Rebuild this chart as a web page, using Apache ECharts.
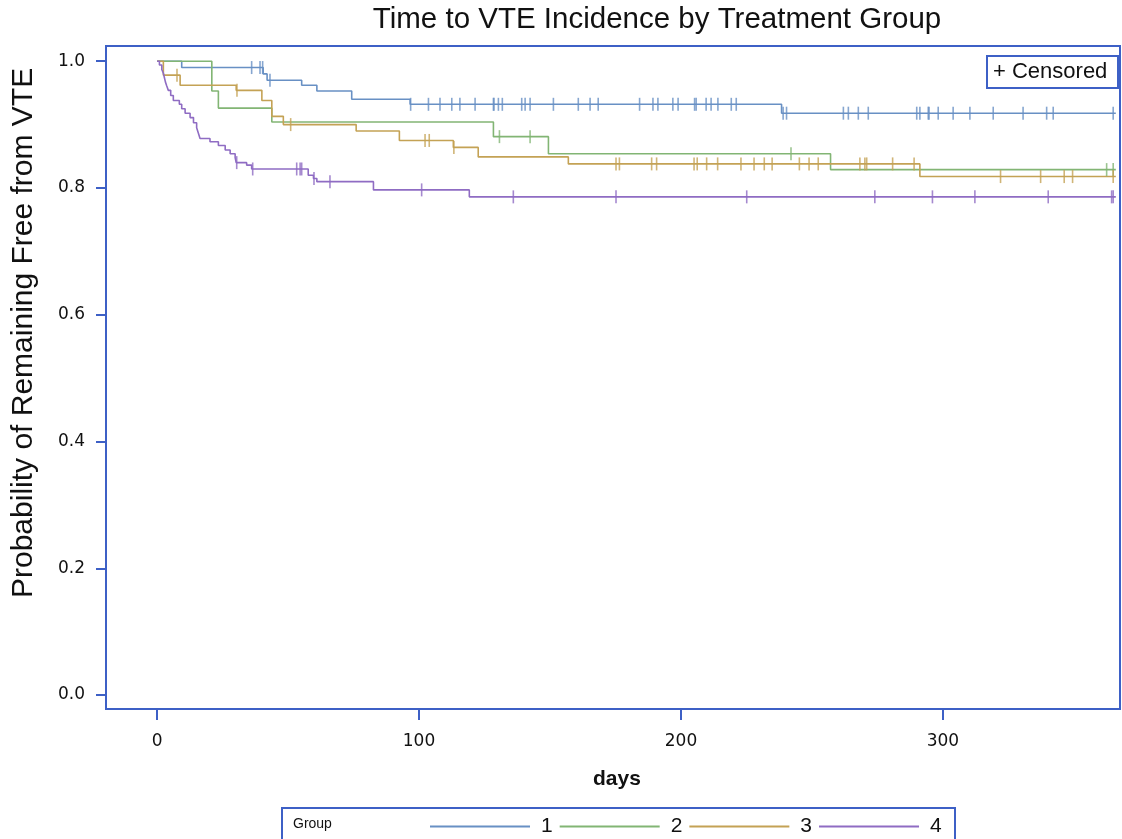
<!DOCTYPE html>
<html><head><meta charset="utf-8">
<script src="https://cdn.jsdelivr.net/npm/echarts@6/dist/echarts.min.js"></script>
<style>html,body{margin:0;padding:0;background:#fff}#c{width:1122px;height:839px}</style>
</head><body><div id="c"></div>
<script>
// Group 1
const g1Times = [9.4, 40.5, 42.0, 55.2, 61.0, 74.3, 96.6, 238.4];
const g1Surv  = [0.990, 0.980, 0.970, 0.962, 0.953, 0.940, 0.932, 0.918];
const g1Censor = [36.1, 39.3, 40.3, 43.1, 96.8, 103.6, 108.0, 112.5, 115.6, 121.4, 128.4, 128.6, 130.3, 131.8, 139.2, 140.5, 142.4, 151.3, 160.8, 165.3, 168.4, 184.2, 189.3, 191.2, 196.9, 198.9, 205.2, 205.8, 209.6, 211.5, 214.1, 219.2, 221.1, 239.0, 240.3, 262.0, 263.9, 267.7, 271.5, 290.0, 291.2, 294.4, 294.7, 298.2, 303.9, 310.3, 319.2, 330.6, 339.6, 342.1, 365.0];
// Group 2
const g2Times = [20.9, 23.4, 43.8, 128.4, 149.4, 257.1];
const g2Surv  = [0.953, 0.926, 0.904, 0.881, 0.854, 0.829];
const g2Censor = [130.7, 142.4, 242.0, 362.5, 365.0];
// Group 3
const g3Times = [2.4, 8.8, 30.2, 40.0, 43.8, 48.2, 76.0, 92.5, 113.1, 122.6, 157.0, 291.2];
const g3Surv  = [0.978, 0.962, 0.954, 0.938, 0.913, 0.900, 0.890, 0.875, 0.864, 0.849, 0.838, 0.818];
const g3Censor = [7.6, 30.5, 51.0, 102.3, 103.9, 113.3, 175.2, 176.5, 188.8, 190.7, 205.0, 206.2, 209.8, 214.0, 222.9, 227.9, 231.8, 234.8, 245.2, 248.9, 252.4, 268.3, 270.2, 270.9, 280.8, 289.0, 322.0, 337.3, 346.3, 349.5, 365.0];
// Group 4
const g4Times = [0.9, 1.8, 2.4, 2.8, 3.2, 3.7, 4.3, 5.2, 6.2, 8.5, 9.4, 10.7, 12.6, 13.9, 15.1, 15.8, 16.4, 20.2, 23.4, 26.0, 27.9, 29.8, 30.2, 34.2, 36.1, 57.7, 59.7, 61.0, 82.6, 119.2];
const g4Surv  = [0.994, 0.987, 0.981, 0.974, 0.967, 0.961, 0.954, 0.946, 0.938, 0.932, 0.925, 0.918, 0.911, 0.903, 0.895, 0.886, 0.878, 0.873, 0.867, 0.860, 0.854, 0.848, 0.840, 0.836, 0.830, 0.820, 0.815, 0.810, 0.797, 0.786];
const g4Censor = [30.4, 36.5, 53.3, 54.6, 55.2, 59.9, 66.0, 101.0, 136.0, 175.2, 225.1, 274.0, 296.0, 312.2, 340.2, 364.4, 365.0];

const groupNames = ['1', '2', '3', '4'];
const endDay = 366;
const xTicks = [0, 100, 200, 300];
const yTicks = [0, 0.2, 0.4, 0.6, 0.8, 1.0];

const colors = ['#6890c4', '#82b574', '#c4a255', '#8f6cc3'];
const groups = [
  [g1Times, g1Surv, g1Censor],
  [g2Times, g2Surv, g2Censor],
  [g3Times, g3Surv, g3Censor],
  [g4Times, g4Surv, g4Censor]
];

function stepPoints(times, surv) {
  const pts = [[0, 1]];
  let prev = 1;
  for (let i = 0; i < times.length; i++) {
    pts.push([times[i], prev]);
    pts.push([times[i], surv[i]]);
    prev = surv[i];
  }
  pts.push([endDay, prev]);
  return pts;
}
function survAt(times, surv, t) {
  let s = 1;
  for (let i = 0; i < times.length; i++) if (times[i] <= t) s = surv[i];
  return s;
}

const series = [];
groups.forEach((g, k) => {
  series.push({
    name: groupNames[k], type: 'line', data: stepPoints(g[0], g[1]),
    showSymbol: false, symbol: 'none', animation: false,
    lineStyle: { color: colors[k], width: 1.6 }, itemStyle: { color: colors[k] }, z: 3
  });
});
groups.forEach((g, k) => {
  series.push({
    name: 'c' + groupNames[k], type: 'scatter',
    data: g[2].map(t => [t, survAt(g[0], g[1], t)]),
    symbol: 'rect', symbolSize: [1.6, 13], animation: false,
    itemStyle: { color: colors[k] }, z: 4
  });
});

const frame = '#3d60c6';
const chart = echarts.init(document.getElementById('c'));
chart.setOption({
  animation: false,
  grid: { left: 106, right: 2, top: 46, bottom: 130, show: true, borderColor: frame, borderWidth: 2 },
  xAxis: {
    type: 'value', min: -19.5, max: 367.6,
    splitLine: { show: false },
    axisLine: { show: true, onZero: false, lineStyle: { color: frame, width: 2 } },
    axisTick: { show: true, length: 11, customValues: xTicks, lineStyle: { color: frame, width: 2 } },
    axisLabel: { customValues: xTicks, margin: 24, fontSize: 17, color: '#111', fontFamily: 'DejaVu Sans' }
  },
  yAxis: {
    type: 'value', min: -0.022, max: 1.024,
    splitLine: { show: false },
    axisLine: { show: true, onZero: false, lineStyle: { color: frame, width: 2 } },
    axisTick: { show: true, length: 10, customValues: yTicks, lineStyle: { color: frame, width: 2 } },
    axisLabel: { customValues: yTicks, margin: 21, fontSize: 17, color: '#111', fontFamily: 'DejaVu Sans',
      formatter: v => v.toFixed(1) }
  },
  legend: {
    data: groupNames, left: 425, top: 811, itemWidth: 100, itemHeight: 2, itemGap: 7, icon: 'rect',
    textStyle: { fontSize: 21, color: '#111', fontFamily: 'Liberation Sans Narrow, Liberation Sans', padding: [0, 0, 0, 6] },
    selectedMode: false
  },
  graphic: [
    { type: 'text', x: 657, y: 5, style: { text: 'Time to VTE Incidence by Treatment Group', font: '29.5px "Liberation Sans"', fill: '#111', textAlign: 'center' } },
    { type: 'text', x: 9, y: 598, rotation: Math.PI / 2, style: { text: 'Probability of Remaining Free from VTE', font: '30px "Liberation Sans"', fill: '#111' } },
    { type: 'text', x: 593, y: 769, style: { text: 'days', font: 'bold 21px "Liberation Sans"', fill: '#111' } },
    { type: 'rect', shape: { x: 987, y: 56, width: 131, height: 32 }, style: { fill: '#fff', stroke: frame, lineWidth: 2 }, z: 10 },
    { type: 'text', x: 993, y: 61, style: { text: '+ Censored', font: '22px "Liberation Sans"', fill: '#111' }, z: 11 },
    { type: 'rect', shape: { x: 282, y: 808, width: 673, height: 40 }, style: { fill: 'none', stroke: frame, lineWidth: 2 }, z: 10 },
    { type: 'text', x: 293, y: 817, style: { text: 'Group', font: '14px "Liberation Sans"', fill: '#111' }, z: 11 }
  ],
  series: series
});
</script></body></html>
